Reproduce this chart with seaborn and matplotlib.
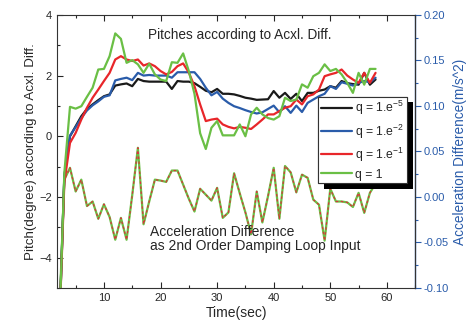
import numpy as np
import pandas as pd
import seaborn as sns
import matplotlib
matplotlib.use("Agg")
import matplotlib.pyplot as plt
from matplotlib.ticker import MultipleLocator
from matplotlib.lines import Line2D
import matplotlib.patheffects as pe

# time axis (sec)
time = list(range(2, 59))

# pitch curves (degree), one per q value
pitch_q5 = [-7.0, -1.32, 0.0, 0.33, 0.66, 0.90, 1.05, 1.19, 1.32, 1.38, 1.67, 1.71, 1.74, 1.65, 1.89,
            1.82, 1.80, 1.80, 1.80, 1.80, 1.56, 1.82, 1.80, 1.80, 1.75, 1.63, 1.50, 1.45, 1.56, 1.40,
            1.40, 1.38, 1.33, 1.27, 1.24, 1.20, 1.21, 1.22, 1.49, 1.27, 1.43, 1.23, 1.40, 1.16, 1.43,
            1.43, 1.50, 1.54, 1.65, 1.60, 1.82, 1.75, 1.72, 1.70, 2.09, 1.70, 1.87]
pitch_q2 = [-7.0, -1.32, 0.02, 0.30, 0.60, 0.85, 1.02, 1.15, 1.30, 1.35, 1.84, 1.89, 1.93, 1.85, 2.09,
            2.00, 2.02, 2.00, 2.00, 2.00, 1.93, 2.11, 2.11, 2.11, 2.11, 1.89, 1.60, 1.35, 1.46, 1.24,
            1.10, 0.99, 0.93, 0.86, 0.80, 0.75, 0.79, 0.90, 1.01, 0.79, 0.99, 0.77, 1.01, 0.80, 1.10,
            1.21, 1.32, 1.40, 1.65, 1.56, 1.78, 1.73, 1.67, 1.76, 1.82, 1.78, 1.93]
pitch_q1 = [-7.0, -1.53, -0.22, 0.11, 0.55, 0.94, 1.27, 1.54, 1.82, 2.09, 2.53, 2.64, 2.53, 2.48, 2.53,
            2.33, 2.40, 2.31, 2.15, 2.04, 2.12, 2.31, 2.40, 2.10, 1.65, 1.05, 0.50, 0.55, 0.58, 0.39,
            0.31, 0.26, 0.31, 0.28, 0.24, 0.39, 0.55, 0.72, 0.72, 0.83, 0.94, 0.99, 1.21, 1.05, 1.32,
            1.38, 1.54, 1.98, 2.04, 2.09, 2.20, 2.00, 1.87, 1.76, 2.09, 1.76, 2.09]
pitch_q0 = [-7.0, -1.21, 0.97, 0.91, 0.99, 1.30, 1.60, 2.20, 2.22, 2.64, 3.39, 3.21, 2.42, 2.51, 2.37,
            2.09, 2.39, 2.04, 1.87, 1.82, 2.44, 2.42, 2.73, 2.15, 1.40, 0.10, -0.42, 0.28, 0.50, 0.03,
            0.03, 0.03, 0.39, 0.00, 0.72, 0.94, 0.72, 0.60, 0.55, 0.66, 1.27, 1.16, 1.21, 1.71, 1.60,
            1.98, 2.09, 2.37, 2.15, 2.22, 2.04, 1.76, 1.43, 2.09, 1.70, 2.22, 2.22]

# acceleration difference (m/s^2), right axis
acc_diff = [-0.15, 0.019, 0.032, 0.006, 0.019, -0.010, -0.005, -0.024, -0.008, -0.022, -0.047, -0.023,
            -0.047, 0.002, 0.054, -0.030, -0.005, 0.019, 0.018, 0.0165, 0.029, 0.029, 0.0135, -0.002,
            -0.016, 0.009, 0.0025, -0.004, 0.010, -0.023, -0.017, 0.026, 0.004, -0.017, -0.041, 0.006,
            -0.028, 0.001, 0.032, -0.024, 0.034, 0.027, 0.005, 0.0245, 0.021, -0.003, -0.0085, -0.048,
            0.009, -0.005, -0.005, -0.006, -0.011, 0.0045, -0.0175, 0.0045, 0.0146]

q_labels = [r"q = 1.e$^{-5}$", r"q = 1.e$^{-2}$", r"q = 1.e$^{-1}$", "q = 1"]
q_colors = ["#1a1a1a", "#2a5caa", "#e8262a", "#6abf45"]
acc_color = "#2a5caa"

sns.set_style("ticks")
plt.rcParams["font.family"] = ["Liberation Sans", "DejaVu Sans"]
plt.rcParams["mathtext.fontset"] = "custom"
plt.rcParams["mathtext.rm"] = "Liberation Sans"

df = pd.DataFrame({
    "time": time * 4,
    "pitch": pitch_q5 + pitch_q2 + pitch_q1 + pitch_q0,
    "q": sum([[lab] * len(time) for lab in q_labels], []),
})

fig = plt.figure(figsize=(4.67, 3.31), dpi=100)
ax = fig.add_axes([0.122, 0.13, 0.767, 0.825])
ax2 = ax.twinx()

sns.lineplot(data=df, x="time", y="pitch", hue="q", hue_order=q_labels,
             palette=q_colors, linewidth=1.6, ax=ax, legend=False)

# acceleration difference line: red/green overlaid
sns.lineplot(x=time, y=acc_diff, color="#6abf45", linewidth=1.6, ax=ax2)
sns.lineplot(x=time, y=acc_diff, color="#d8343a", linewidth=0.9, ax=ax2)
ax2.lines[-1].set_dashes([2, 2])

ax.set_xlim(1.7, 65)
ax.set_ylim(-5, 4)
ax2.set_ylim(-0.1, 0.2)

ax.xaxis.set_major_locator(MultipleLocator(10))
ax.xaxis.set_minor_locator(MultipleLocator(5))
ax.yaxis.set_major_locator(MultipleLocator(2))
ax.yaxis.set_minor_locator(MultipleLocator(1))
ax2.yaxis.set_major_locator(MultipleLocator(0.05))
ax2.yaxis.set_minor_locator(MultipleLocator(0.025))
ax2.yaxis.set_major_formatter(matplotlib.ticker.FormatStrFormatter("%.2f"))

ax.tick_params(which="both", direction="in", top=True, labelsize=8, width=0.8)
ax.tick_params(which="major", length=4)
ax.tick_params(which="minor", length=2.5)
ax.tick_params(axis="y", which="both", right=False)
ax2.tick_params(which="both", direction="out", colors=acc_color, labelsize=8, width=0.8, pad=2)
ax2.tick_params(which="major", length=4)
ax2.tick_params(which="minor", length=2.5)

for s in ax.spines.values():
    s.set_linewidth(0.8)
    s.set_color("#333333")
for s in ax2.spines.values():
    s.set_visible(False)
ax2.spines["right"].set_visible(True)
ax2.spines["right"].set_color(acc_color)
ax2.spines["right"].set_linewidth(1.0)

ax.set_xlabel("Time(sec)", fontsize=10, labelpad=2)
ax.set_ylabel("Pitch(degree) according to Acxl. Diff.", fontsize=9.6, labelpad=2)
ax2.set_ylabel("Acceleration Difference(m/s^2)", fontsize=9.8, color=acc_color, labelpad=3)

ax.text(0.255, 0.925, "Pitches according to Acxl. Diff.", transform=ax.transAxes,
        fontsize=9.8, ha="left", va="center")
ax.text(0.26, 0.18, "Acceleration Difference\nas 2nd Order Damping Loop Input",
        transform=ax.transAxes, fontsize=10, ha="left", va="center", linespacing=1.0)

handles = [Line2D([], [], color=c, linewidth=1.6) for c in q_colors]
leg = ax.legend(handles, q_labels, loc="upper right", bbox_to_anchor=(0.978, 0.70),
                fontsize=8.8, frameon=True, fancybox=False, framealpha=1, handlelength=2.6,
                handletextpad=0.25, borderpad=0.2, labelspacing=0.4, borderaxespad=0)
frame = leg.get_frame()
frame.set_facecolor("white")
frame.set_edgecolor("#333333")
frame.set_linewidth(0.8)
frame.set_path_effects([pe.withSimplePatchShadow(offset=(4, -4), shadow_rgbFace="k", alpha=1.0),
                        pe.Normal()])
ax.set_zorder(ax2.get_zorder() + 1)
ax.patch.set_visible(False)

fig.savefig("out.png", dpi=100)
